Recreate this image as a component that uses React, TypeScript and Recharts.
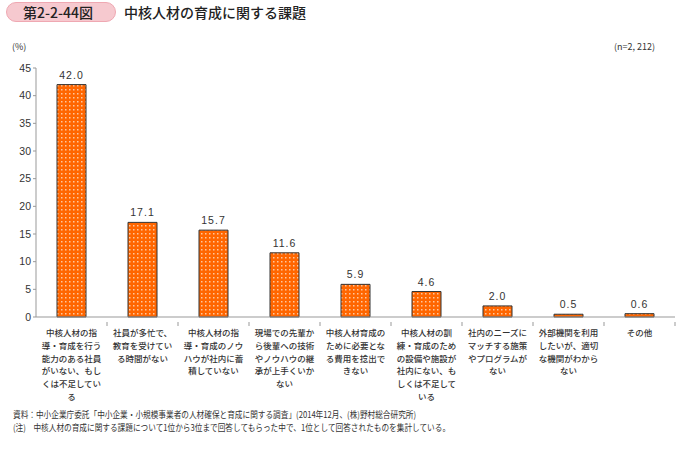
import React from "react";
import { BarChart, Bar, XAxis, YAxis, LabelList } from "recharts";

const categories: string[][] = [
  ["中核人材の指", "導・育成を行う", "能力のある社員", "がいない、もし", "くは不足してい", "る"],
  ["社員が多忙で、", "教育を受けてい", "る時間がない"],
  ["中核人材の指", "導・育成のノウ", "ハウが社内に蓄", "積していない"],
  ["現場での先輩か", "ら後輩への技術", "やノウハウの継", "承が上手くいか", "ない"],
  ["中核人材育成の", "ために必要とな", "る費用を捻出で", "きない"],
  ["中核人材の訓", "練・育成のため", "の設備や施設が", "社内にない、も", "しくは不足して", "いる"],
  ["社内のニーズに", "マッチする施策", "やプログラムが", "ない"],
  ["外部機関を利用", "したいが、適切", "な機関がわから", "ない"],
  ["その他"],
];
const values: number[] = [42.0, 17.1, 15.7, 11.6, 5.9, 4.6, 2.0, 0.5, 0.6];
const yTicks: number[] = [0, 5, 10, 15, 20, 25, 30, 35, 40, 45];

const data = values.map((v, i) => ({ name: String(i), value: v }));

const FONT = "'Noto Sans CJK JP', 'Noto Sans', sans-serif";

const CatTick = (props: any) => {
  const { x, y, payload } = props;
  const lines = categories[Number(payload.value)] || [];
  return (
    <g>
      <line x1={x + 35.5} x2={x + 35.5} y1={y - 3} y2={y + 1} stroke="#999" />
      <text x={x} y={y + 11} textAnchor="middle" fontSize={8.5} fill="#333" fontFamily={FONT} fontWeight={500}>
        {lines.map((l, i) => (
          <tspan key={i} x={x} dy={i === 0 ? 0 : 12.8}>
            {l}
          </tspan>
        ))}
      </text>
    </g>
  );
};

const footStyle: React.CSSProperties = {
  position: "absolute",
  left: 13,
  fontSize: 9,
  lineHeight: "13px",
  color: "#333",
  fontFamily: FONT,
  whiteSpace: "pre",
  transform: "scaleX(0.85)",
  transformOrigin: "0 0",
};

export default function App() {
  return (
    <div style={{ position: "absolute", left: 0, top: 0, width: 680, height: 450, background: "#fff", fontFamily: FONT }}>
      <div
        style={{
          position: "absolute",
          left: 6,
          top: 2,
          width: 110,
          height: 20,
          background: "#F6C9CF",
          border: "1px solid #EFA8B2",
          borderRadius: 10,
          boxSizing: "border-box",
        }}
      />
      <div style={{ position: "absolute", left: 23, top: 2, fontSize: 14, fontWeight: 500, lineHeight: "20px", color: "#222", fontFamily: FONT }}>
        第2-2-44図
      </div>
      <div style={{ position: "absolute", left: 124, top: 2, fontSize: 14, fontWeight: 500, lineHeight: "20px", color: "#222", fontFamily: FONT }}>
        中核人材の育成に関する課題
      </div>
      <div style={{ position: "absolute", left: 12, top: 40, fontSize: 9, color: "#333", fontFamily: FONT }}>(%)</div>
      <div style={{ position: "absolute", left: 614, top: 40, fontSize: 9, color: "#333", fontFamily: FONT }}>(n=2, 212)</div>
      <BarChart
        width={680}
        height={450}
        data={data}
        margin={{ top: 68, right: 5, bottom: 0, left: 0 }}
        barCategoryGap={21}
      >
        <defs>
          <pattern id="dots" width="4" height="4" patternUnits="userSpaceOnUse">
            <rect width="4" height="4" fill="#FF6600" />
            <rect x="1" y="1" width="1.5" height="1.5" fill="#FFC79E" />
          </pattern>
        </defs>
        <XAxis
          dataKey="name"
          tick={<CatTick />}
          tickLine={false}
          axisLine={{ stroke: "#999" }}
          interval={0}
          height={133}
        />
        <YAxis
          domain={[0, 45]}
          ticks={yTicks}
          width={36}
          tickSize={3}
          tickLine={{ stroke: "#999" }}
          axisLine={{ stroke: "#999" }}
          tick={{ fontSize: 10.5, fill: "#333", fontFamily: "'Liberation Sans', sans-serif" }}
          interval={0}
        />
        <Bar dataKey="value" fill="url(#dots)" stroke="#333" strokeWidth={1} isAnimationActive={false}>
          <LabelList
            dataKey="value"
            position="top"
            offset={6}
            formatter={(v: any) => Number(v).toFixed(1)}
            style={{ fontSize: 10.5, fill: "#333", fontFamily: "'Liberation Sans', sans-serif", letterSpacing: 1 }}
          />
        </Bar>
      </BarChart>
      <div style={{ ...footStyle, top: 408 }}>
        資料：中小企業庁委託「中小企業・小規模事業者の人材確保と育成に関する調査」(2014年12月、(株)野村総合研究所)
      </div>
      <div style={{ ...footStyle, top: 421 }}>
        (注)　中核人材の育成に関する課題について1位から3位まで回答してもらった中で、1位として回答されたものを集計している。
      </div>
    </div>
  );
}
